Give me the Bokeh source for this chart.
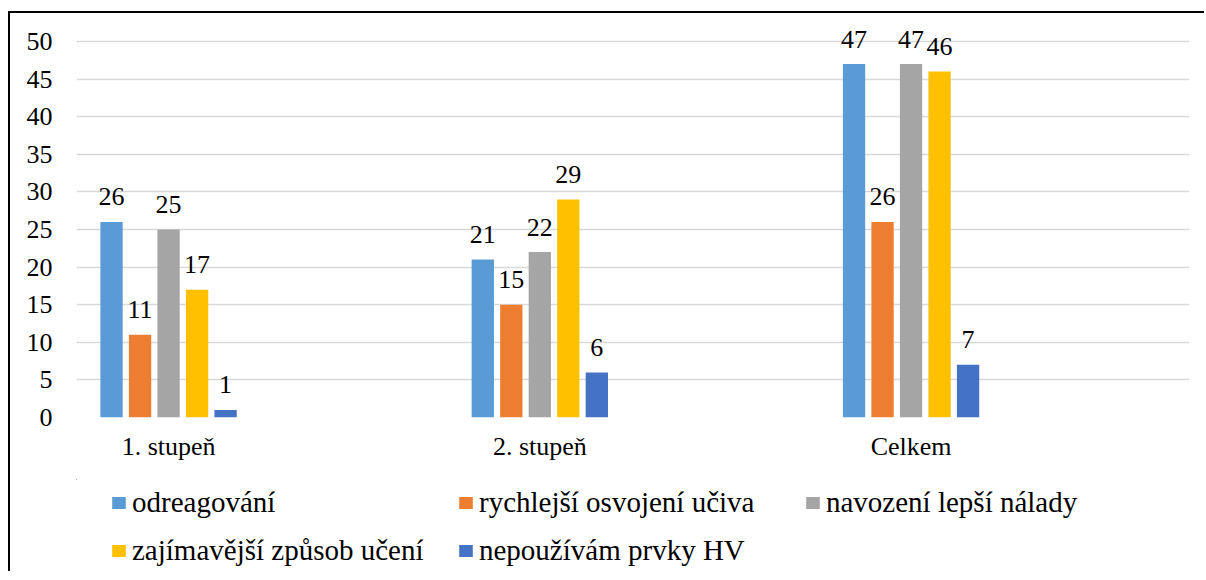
from bokeh.plotting import figure
from bokeh.models import Range1d, FixedTicker, Legend, LegendItem, ColumnDataSource
from bokeh.layouts import column
from bokeh.core.properties import value
from bokeh.embed import file_html
from bokeh.resources import INLINE

categories = ["1. stupeň", "2. stupeň", "Celkem"]
series = ["odreagování", "rychlejší osvojení učiva", "navození lepší nálady",
          "zajímavější způsob učení", "nepoužívám prvky HV"]
odreagovani = [26, 21, 47]
rychlejsi = [11, 15, 26]
navozeni = [25, 22, 47]
zajimavejsi = [17, 29, 46]
nepouzivam = [1, 6, 7]
colors = ["#5B9BD5", "#ED7D31", "#A5A5A5", "#FFC000", "#4472C4"]
y_ticks = [0, 5, 10, 15, 20, 25, 30, 35, 40, 45, 50]

values = [odreagovani, rychlejsi, navozeni, zajimavejsi, nepouzivam]
FONT = "'Liberation Serif', 'Times New Roman', Times, serif"

# ---- main chart ----
p = figure(width=1194, height=466, output_backend="svg", toolbar_location=None,
           x_range=Range1d(-0.248, 2.750), y_range=Range1d(0, 53.06),
           min_border_left=66, min_border_right=15, min_border_top=5, min_border_bottom=62)
p.outline_line_color = None
p.xgrid.grid_line_color = None
p.ygrid.grid_line_color = "#D9D9D9"
p.ygrid.grid_line_width = 1.5
p.yaxis.ticker = FixedTicker(ticks=y_ticks)
p.yaxis.axis_line_color = None
p.yaxis.major_tick_line_color = None
p.yaxis.minor_tick_line_color = None
p.yaxis.major_label_standoff = 18
p.yaxis.major_label_text_font = FONT
p.yaxis.major_label_text_font_size = "26px"
p.yaxis.major_label_text_color = "black"

p.xaxis.ticker = FixedTicker(ticks=list(range(len(categories))))
p.xaxis.major_label_overrides = {i: c for i, c in enumerate(categories)}
p.xaxis.axis_line_color = None
p.xaxis.major_tick_line_color = None
p.xaxis.minor_tick_line_color = None
p.xaxis.major_label_standoff = 8
p.xaxis.major_label_text_font = FONT
p.xaxis.major_label_text_font_size = "26px"
p.xaxis.major_label_text_color = "black"

pitch = 0.0768
bw = 0.0601
sources = []
for k, (name, vals, col) in enumerate(zip(series, values, colors)):
    xs = [i + (k - 2) * pitch for i in range(len(categories))]
    src = ColumnDataSource(dict(x=xs, top=vals, lab=[str(v) for v in vals]))
    sources.append(src)
    p.vbar(x="x", top="top", width=bw, bottom=0, source=src,
           fill_color=col, line_color=None)
    p.text(x="x", y="top", text="lab", source=src, text_align="center",
           text_baseline="alphabetic", y_offset=-25, text_font=value(FONT),
           text_font_size="26px", text_color="black")

# ---- legend strip (its renderers draw nothing visible; only the key shows) ----
lg = figure(width=1194, height=92, output_backend="svg", toolbar_location=None,
            x_range=Range1d(100, 101), y_range=Range1d(-1001, -1000),
            min_border_left=66, min_border_right=15, min_border_top=0, min_border_bottom=0)
lg.axis.visible = False
lg.grid.grid_line_color = None
lg.outline_line_color = None
items = []
for name, col, src in zip(series, colors, sources):
    r = lg.vbar(x="x", top="top", bottom="top", width=bw, source=src,
                fill_color=col, line_color=None)
    items.append(LegendItem(label=name, renderers=[r]))

legend = Legend(items=items, orientation="horizontal", ncols=3,
                location=(34, 4), padding=0, margin=0, spacing=15,
                glyph_width=17, glyph_height=15, label_standoff=5,
                label_width=310, label_height=31,
                label_text_baseline="alphabetic", label_text_line_height=0.9,
                label_text_font=FONT, label_text_font_size="29px",
                label_text_color="black",
                background_fill_alpha=0, border_line_color=None)
lg.add_layout(legend, "center")

layout = column(p, lg, spacing=0)
layout.styles = {"margin-left": "8px", "margin-top": "11px",
                 "border-left": "2px solid black", "border-top": "2px solid black"}

open("out.html", "w").write(file_html(layout, INLINE))
